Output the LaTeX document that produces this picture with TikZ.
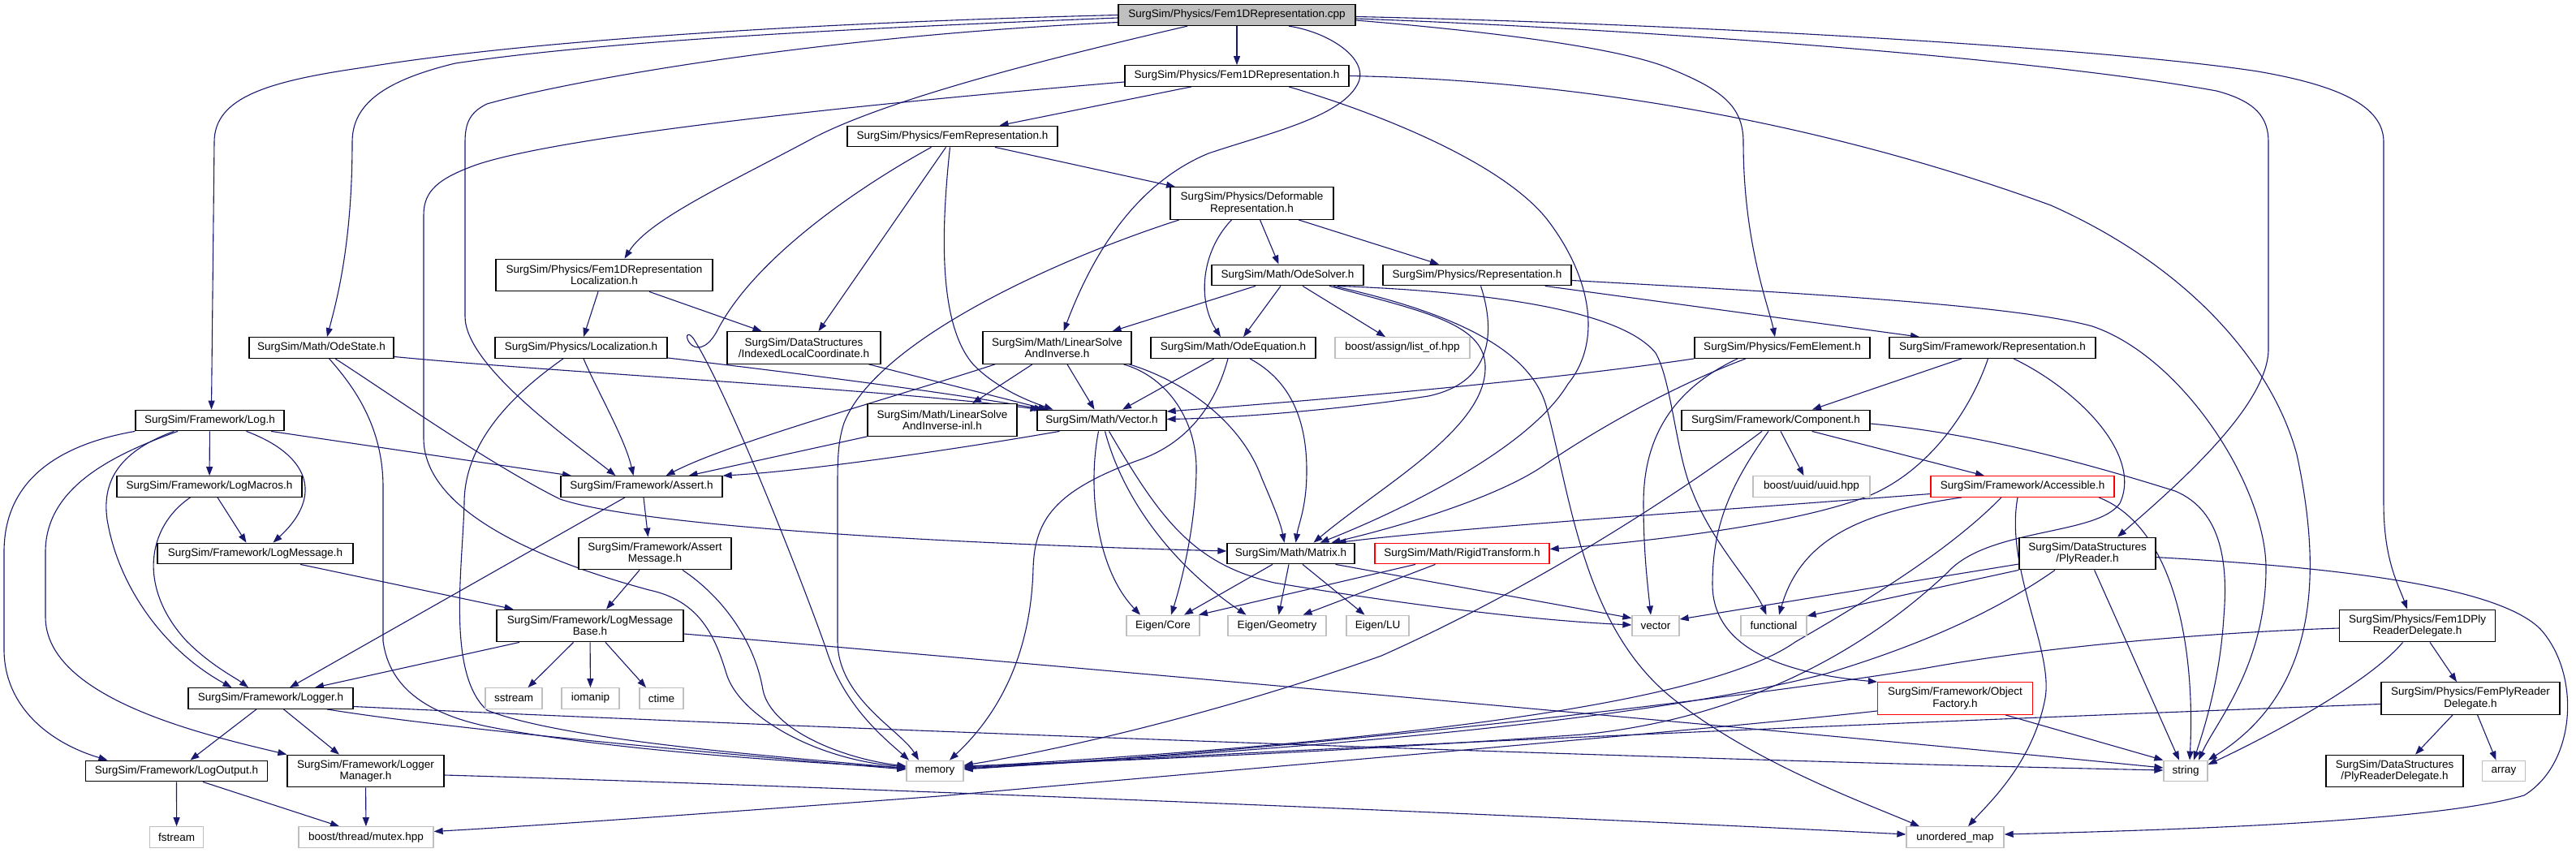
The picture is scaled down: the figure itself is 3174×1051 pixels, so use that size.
\documentclass[tikz,border=0pt]{standalone}
\usepackage{fontspec}
\setmainfont{Liberation Sans}
\usetikzlibrary{arrows.meta,calc}
\definecolor{mblue}{HTML}{191970}
\definecolor{grayext}{HTML}{BFBFBF}
\newcommand{\nfs}{\fontsize{13.5}{14.3}\selectfont}
\pgfdeclarelayer{bglayer}
\pgfdeclarelayer{edgelayer}
\pgfsetlayers{bglayer,edgelayer,main}
\tikzset{
  nd/.style={draw=black, line width=1.3pt, fill=white, inner sep=0pt, minimum height=25.5pt, align=center, font=\nfs, text=black},
  two/.style={minimum height=39.5pt},
  ext/.style={nd, draw=grayext},
  trunc/.style={nd, draw=red},
  edg/.style={draw=mblue, line width=1.1pt, -{Triangle[length=11pt,width=8pt]}},
}
\begin{document}
\begin{tikzpicture}[x=1pt,y=-1pt]
\begin{pgfonlayer}{bglayer}
\fill[white] (0,0) rectangle (3174,1051);
\end{pgfonlayer}
\useasboundingbox (0,0) rectangle (3174,1051);
% ---------- nodes ----------
\node[nd,fill=grayext,minimum width=292pt,minimum height=26pt] (root) at (1524,18.5) {SurgSim/Physics/Fem1DRepresentation.cpp};
\node[nd,minimum width=276pt] (f1dh) at (1524,93.5) {SurgSim/Physics/Fem1DRepresentation.h};
\node[nd,minimum width=259pt] (femrep) at (1173.5,168) {SurgSim/Physics/FemRepresentation.h};
\node[nd,two,minimum width=201pt] (deform) at (1542.5,250.5) {SurgSim/Physics/Deformable\\Representation.h};
\node[nd,two,minimum width=267pt] (f1dloc) at (744.5,339) {SurgSim/Physics/Fem1DRepresentation\\Localization.h};
\node[nd,minimum width=187pt] (odesolver) at (1586.5,339) {SurgSim/Math/OdeSolver.h};
\node[nd,minimum width=232pt] (physrep) at (1820,339) {SurgSim/Physics/Representation.h};
\node[nd,minimum width=178pt] (odestate) at (396,428.5) {SurgSim/Math/OdeState.h};
\node[nd,minimum width=212pt] (loc) at (716,428.5) {SurgSim/Physics/Localization.h};
\node[nd,two,minimum width=189pt] (ilc) at (990.5,428.5) {SurgSim/DataStructures\\/IndexedLocalCoordinate.h};
\node[nd,two,minimum width=183pt] (linsolve) at (1302.5,428.5) {SurgSim/Math/LinearSolve\\AndInverse.h};
\node[nd,minimum width=203pt] (odeeq) at (1519.5,428.5) {SurgSim/Math/OdeEquation.h};
\node[ext,minimum width=166pt] (listof) at (1728,428.5) {boost/assign/list\_of.hpp};
\node[nd,minimum width=216pt] (femelem) at (2196,428.5) {SurgSim/Physics/FemElement.h};
\node[nd,minimum width=254pt] (fwrep) at (2455,428.5) {SurgSim/Framework/Representation.h};
\node[nd,minimum width=183pt] (log) at (258.5,518) {SurgSim/Framework/Log.h};
\node[nd,two,minimum width=184pt] (lsinl) at (1161,517.5) {SurgSim/Math/LinearSolve\\AndInverse-inl.h};
\node[nd,minimum width=159pt] (vec) at (1357.5,518) {SurgSim/Math/Vector.h};
\node[nd,minimum width=232pt] (comp) at (2188,518) {SurgSim/Framework/Component.h};
\node[nd,minimum width=228pt] (logmacros) at (258,599.5) {SurgSim/Framework/LogMacros.h};
\node[nd,minimum width=199pt] (assert) at (790.5,599.5) {SurgSim/Framework/Assert.h};
\node[ext,minimum width=144pt] (uuid) at (2232,599.5) {boost/uuid/uuid.hpp};
\node[trunc,minimum width=226pt] (access) at (2492,599.5) {SurgSim/Framework/Accessible.h};
\node[nd,minimum width=241pt] (logmsg) at (314.5,682) {SurgSim/Framework/LogMessage.h};
\node[nd,two,minimum width=188pt] (assertmsg) at (807,682) {SurgSim/Framework/Assert\\Message.h};
\node[nd,minimum width=157pt] (matrix) at (1590.5,682) {SurgSim/Math/Matrix.h};
\node[trunc,minimum width=215pt] (rigid) at (1801.5,682) {SurgSim/Math/RigidTransform.h};
\node[nd,two,minimum width=168pt] (plyreader) at (2572,682) {SurgSim/DataStructures\\/PlyReader.h};
\node[nd,two,minimum width=230pt] (lmbase) at (727,771) {SurgSim/Framework/LogMessage\\Base.h};
\node[ext,minimum width=90pt] (ecore) at (1433,771) {Eigen/Core};
\node[ext,minimum width=121pt] (egeom) at (1573.5,771) {Eigen/Geometry};
\node[ext,minimum width=77pt] (elu) at (1697.5,771) {Eigen/LU};
\node[ext,minimum width=58pt] (vector) at (2040,771) {vector};
\node[ext,minimum width=81pt] (functional) at (2185.5,771) {functional};
\node[nd,two,minimum width=192pt] (f1dply) at (2978.6,771) {SurgSim/Physics/Fem1DPly\\ReaderDelegate.h};
\node[nd,minimum width=203pt] (logger) at (333.5,860.5) {SurgSim/Framework/Logger.h};
\node[ext,minimum width=70pt] (sstream) at (633,860.5) {sstream};
\node[ext,minimum width=71pt] (iomanip) at (727.5,860.5) {iomanip};
\node[ext,minimum width=54pt] (ctime) at (815,860.5) {ctime};
\node[trunc,two,minimum width=191pt] (objfact) at (2409,860.5) {SurgSim/Framework/Object\\Factory.h};
\node[nd,two,minimum width=220pt] (femply) at (3044,860.5) {SurgSim/Physics/FemPlyReader\\Delegate.h};
\node[nd,minimum width=224pt] (logout) at (217.5,950) {SurgSim/Framework/LogOutput.h};
\node[nd,two,minimum width=193pt] (logmgr) at (450.5,950) {SurgSim/Framework/Logger\\Manager.h};
\node[ext,minimum width=70pt] (memory) at (1152,950) {memory};
\node[ext,minimum width=54pt] (string) at (2693,950) {string};
\node[nd,two,minimum width=169pt] (plyrd) at (2950.5,950) {SurgSim/DataStructures\\/PlyReaderDelegate.h};
\node[ext,minimum width=53pt] (array) at (3085,950) {array};
\node[ext,minimum width=66pt] (fstream) at (217.6,1031.5) {fstream};
\node[ext,minimum width=166pt] (mutex) at (451,1031.5) {boost/thread/mutex.hpp};
\node[ext,minimum width=120pt] (umap) at (2409,1031.5) {unordered\_map};
% ---------- edges ----------
\begin{pgfonlayer}{edgelayer}
% root
\draw[edg] (root) -- (f1dh);
\draw[edg] (root.west) .. controls (1000,28) and (650,50) .. (449,83) .. controls (330,100) and (264,120) .. (264,175) -- ($(log.north)+(2,0)$);
\draw[edg] ($(root.west)+(0,3.5)$) .. controls (1050,35) and (750,50) .. (561,78) .. controls (470,100) and (434,130) .. (434,175) .. controls (434,300) and (415,370) .. ($(odestate.north)+(7,0)$);
\draw[edg] ($(root.south)+(-61,0)$) .. controls (1300,70) and (1100,120) .. (1004,169) .. controls (900,225) and (800,270) .. ($(f1dloc.north)+(25,0)$);
\draw[edg] ($(root.west)+(0,9)$) .. controls (1000,45) and (700,100) .. (600,128) .. controls (580,138) and (573,150) .. (573,175) -- (573,390) .. controls (573,450) and (700,540) .. ($(assert.north)+(-32,0)$);
\draw[edg] ($(root.south)+(64,0)$) .. controls (1640,40) and (1690,75) .. (1672,105) .. controls (1650,145) and (1560,165) .. (1489,189) .. controls (1390,230) and (1340,330) .. ($(linsolve.north)+(8,0)$);
\draw[edg] ($(root.east)+(0,6.5)$) .. controls (1850,40) and (2000,60) .. (2059,85) .. controls (2120,110) and (2148,130) .. (2148,175) .. controls (2148,300) and (2180,380) .. ($(femelem.north)+(-9,0)$);
\draw[edg] ($(root.east)+(0,4.5)$) .. controls (2000,35) and (2500,70) .. (2731,112) .. controls (2780,125) and (2795,145) .. (2795,175) -- (2795,430) .. controls (2795,500) and (2680,600) .. ($(plyreader.north)+(37,0)$);
\draw[edg] ($(root.east)+(0,2)$) .. controls (2100,30) and (2600,60) .. (2782,88) .. controls (2880,105) and (2937,130) .. (2937,175) -- (2937,620) .. controls (2937,690) and (2955,720) .. ($(f1dply.north)+(-12.6,0)$);
% Fem1DRepresentation.h
\draw[edg] ($(f1dh.south)+(-56,0)$) -- ($(femrep.north)+(58,0)$);
\draw[edg] ($(f1dh.west)+(0,7.5)$) .. controls (1100,125) and (700,165) .. (587,203) .. controls (540,220) and (522,235) .. (522,265) -- (522,540) .. controls (522,640) and (700,700) .. (800,727) .. controls (860,740) and (880,780) .. (895,830) .. controls (910,880) and (1000,935) .. ($(memory.west)+(0,-5)$);
\draw[edg] ($(f1dh.south)+(64,0)$) .. controls (1700,140) and (1850,200) .. (1906,270) .. controls (1960,340) and (1975,420) .. (1932,473) .. controls (1880,560) and (1700,640) .. ($(matrix.north)+(36,0)$);
\draw[edg] (f1dh.east) .. controls (2000,100) and (2300,170) .. (2527,253) .. controls (2700,330) and (2800,450) .. (2830,560) .. controls (2860,700) and (2860,850) .. (string.north east);
% FemRepresentation.h
\draw[edg] ($(femrep.south)+(52.5,0)$) -- ($(deform.north)+(-94.5,0)$);
\draw[edg] ($(femrep.south)+(-8,0)$) -- ($(ilc.north)+(18,0)$);
\draw[edg] ($(femrep.south)+(-3,0)$) .. controls (1160,280) and (1155,400) .. (1200,450) .. controls (1230,480) and (1270,495) .. ($(vec.north)+(-60,0)$);
\draw[edg] ($(femrep.south)+(-26,0)$) .. controls (1050,235) and (930,320) .. (885,405) .. controls (875,425) and (862,433) .. (852,425) .. controls (843,417) and (846,405) .. (855,418) .. controls (900,490) and (990,720) .. (1018,800) .. controls (1040,870) and (1090,910) .. ($(memory.north)+(-32,0)$);
% Deformable
\draw[edg] ($(deform.south)+(10,0)$) -- ($(odesolver.north)+(-11,0)$);
\draw[edg] ($(deform.south)+(-25,0)$) .. controls (1480,310) and (1475,370) .. ($(odeeq.north)+(-15.5,0)$);
\draw[edg] ($(deform.south)+(57.5,0)$) -- ($(physrep.north)+(-47,0)$);
\draw[edg] ($(deform.south)+(-89.5,0)$) .. controls (1300,320) and (1080,420) .. (1040,521) .. controls (1032,545) and (1032,570) .. (1032,600) -- (1032,790) .. controls (1032,860) and (1110,900) .. ($(memory.north)+(-20,0)$);
% OdeSolver
\draw[edg] ($(odesolver.south)+(-39.5,0)$) -- ($(linsolve.north)+(68,0)$);
\draw[edg] ($(odesolver.south)+(-8.5,0)$) -- ($(odeeq.north)+(12.5,0)$);
\draw[edg] ($(odesolver.south)+(18.5,0)$) -- ($(listof.north)+(-21,0)$);
\draw[edg] ($(odesolver.south)+(51.5,0)$) .. controls (1760,385) and (1832,400) .. (1830,455) .. controls (1828,530) and (1700,600) .. ($(matrix.north)+(28,0)$);
\draw[edg] ($(odesolver.south)+(56.5,0)$) .. controls (1790,385) and (1885,430) .. (1905,500) .. controls (1935,610) and (1950,770) .. (2059,859) .. controls (2160,940) and (2300,990) .. ($(umap.north)+(-44,0)$);
\draw[edg] ($(odesolver.south)+(61.5,0)$) .. controls (1850,360) and (2000,385) .. (2040,435) .. controls (2060,470) and (2065,560) .. (2085,605) .. controls (2110,670) and (2160,720) .. ($(functional.north)+(-9,0)$);
% Physics/Representation
\draw[edg] ($(physrep.south)+(83.6,0)$) -- ($(fwrep.north)+(-90,0)$);
\draw[edg] ($(physrep.south)+(4.5,0)$) .. controls (1840,400) and (1845,470) .. (1760,488) .. controls (1650,505) and (1520,515) .. ($(vec.east)+(0,-1.5)$);
\draw[edg] ($(physrep.east)+(0,6.5)$) .. controls (2200,360) and (2480,375) .. (2578,402) .. controls (2690,440) and (2792,600) .. (2792,700) .. controls (2792,820) and (2730,890) .. ($(string.north)+(16,0)$);
% LinearSolve
\draw[edg] ($(linsolve.south)+(-76.5,0)$) .. controls (1100,490) and (900,545) .. ($(assert.north)+(30,0)$);
\draw[edg] ($(linsolve.south)+(-30.5,0)$) -- ($(lsinl.north)+(37,0)$);
\draw[edg] ($(linsolve.south)+(12.5,0)$) -- ($(vec.north)+(-9,0)$);
\draw[edg] ($(linsolve.south)+(82,0)$) .. controls (1440,465) and (1475,520) .. (1474,580) .. controls (1473,650) and (1455,720) .. ($(ecore.north)+(10,0)$);
\draw[edg] ($(linsolve.south)+(89,0)$) .. controls (1460,470) and (1530,520) .. (1555,590) .. controls (1570,625) and (1578,645) .. ($(matrix.north)+(-8,0)$);
% OdeEquation
\draw[edg] ($(odeeq.south)+(-23.5,0)$) -- ($(vec.north)+(25.5,0)$);
\draw[edg] ($(odeeq.south)+(-6.5,0)$) .. controls (1500,490) and (1470,545) .. (1400,568) .. controls (1300,605) and (1275,640) .. (1273,700) .. controls (1270,820) and (1220,890) .. ($(memory.north)+(18,0)$);
\draw[edg] ($(odeeq.south)+(20.5,0)$) .. controls (1592,470) and (1610,520) .. (1610,580) .. controls (1610,625) and (1600,645) .. ($(matrix.north)+(6,0)$);
% OdeState
\draw[edg] ($(odestate.south)+(9.6,0)$) .. controls (430,470) and (472,520) .. (472,600) -- (472,790) .. controls (480,850) and (530,880) .. (600,895) .. controls (750,925) and (1000,940) .. ($(memory.west)+(0,-4)$);
\draw[edg] ($(odestate.south)+(17,0)$) .. controls (480,485) and (600,570) .. (690,615) .. controls (780,645) and (1100,668) .. ($(matrix.west)+(0,-3)$);
\draw[edg] ($(odestate.east)+(0,11)$) .. controls (700,460) and (1100,480) .. ($(vec.north)+(-77,0)$);
% Localization
\draw[edg] ($(loc.south)+(3,0)$) .. controls (735,480) and (770,540) .. ($(assert.north)+(-10,0)$);
\draw[edg] ($(loc.south)+(-22,0)$) .. controls (640,480) and (572,540) .. (572,620) .. controls (570,700) and (550,830) .. (600,875) .. controls (700,915) and (1000,935) .. ($(memory.west)+(0,-3)$);
\draw[edg] ($(loc.east)+(0,12.5)$) .. controls (900,450) and (1150,480) .. ($(vec.north)+(-72,0)$);
% Fem1DRepresentationLocalization
\draw[edg] ($(f1dloc.south)+(-7.5,0)$) -- ($(loc.north)+(3,0)$);
\draw[edg] ($(f1dloc.south)+(55.5,0)$) -- ($(ilc.north)+(-52,0)$);
% IndexedLocalCoordinate, LinearSolve-inl
\draw[edg] ($(ilc.south)+(80,0)$) -- ($(vec.north)+(-67,0)$);
\draw[edg] (lsinl.south west) -- ($(assert.north)+(58,0)$);
% Vector
\draw[edg] ($(vec.south)+(-52,0)$) .. controls (1200,550) and (1000,580) .. (assert.north east);
\draw[edg] ($(vec.south)+(-4,0)$) .. controls (1340,600) and (1350,700) .. ($(ecore.north)+(-28,0)$);
\draw[edg] ($(vec.south)+(4,0)$) .. controls (1385,620) and (1450,700) .. ($(egeom.north)+(-38,0)$);
\draw[edg] ($(vec.south)+(9,0)$) .. controls (1430,640) and (1470,695) .. (1570,718) .. controls (1750,748) and (1900,765) .. ($(vector.west)+(0,-1)$);
% Matrix
\draw[edg] ($(matrix.south)+(-22.5,0)$) -- ($(ecore.north)+(26,0)$);
\draw[edg] ($(matrix.south)+(-2.5,0)$) -- ($(egeom.north)+(2,0)$);
\draw[edg] ($(matrix.south)+(14.5,0)$) -- ($(elu.north)+(-16,0)$);
\draw[edg] ($(matrix.south)+(55,0)$) -- ($(vector.north west)+(0,4)$);
% RigidTransform
\draw[edg] ($(rigid.south)+(-57.5,0)$) -- ($(ecore.north)+(44,0)$);
\draw[edg] ($(rigid.south)+(-33,0)$) -- ($(egeom.north)+(32,0)$);
% Framework/Representation
\draw[edg] ($(fwrep.south)+(-38,0)$) -- ($(comp.north)+(45,0)$);
\draw[edg] ($(fwrep.south)+(-5.5,0)$) .. controls (2430,500) and (2380,580) .. (2300,612) .. controls (2200,650) and (2000,670) .. ($(rigid.east)+(0,-5.5)$);
\draw[edg] ($(fwrep.south)+(26,0)$) .. controls (2560,480) and (2640,560) .. (2612,620) .. controls (2585,660) and (2450,650) .. (2400,705) .. controls (2300,800) and (2150,885) .. (1950,905) .. controls (1600,930) and (1300,940) .. ($(memory.east)+(0,-6)$);
% Component
\draw[edg] ($(comp.south)+(6,0)$) -- ($(uuid.north)+(-9.5,0)$);
\draw[edg] ($(comp.south)+(44.6,0)$) -- ($(access.north)+(-47,0)$);
\draw[edg] ($(comp.east)+(0,4)$) .. controls (2450,535) and (2600,580) .. (2680,605) .. controls (2740,630) and (2745,700) .. (2740,760) .. controls (2735,840) and (2715,900) .. ($(string.north)+(10,0)$);
\draw[edg] ($(comp.south)+(-17,0)$) .. controls (2080,600) and (1900,720) .. (1702,808) .. controls (1500,880) and (1300,925) .. ($(memory.east)+(0,-7)$);
\draw[edg] ($(comp.south)+(-9,0)$) .. controls (2130,600) and (2110,650) .. (2110,720) .. controls (2110,800) and (2200,830) .. (objfact.north west);
% Accessible
\draw[edg] ($(access.west)+(0,9)$) .. controls (2100,630) and (1800,650) .. ($(matrix.north)+(57,0)$);
\draw[edg] ($(access.south)+(-75,0)$) .. controls (2300,630) and (2220,660) .. ($(functional.north)+(6.5,0)$);
\draw[edg] ($(access.south)+(-26,0)$) .. controls (2400,680) and (2300,740) .. (2212,791) .. controls (2100,870) and (1700,915) .. ($(memory.east)+(0,-5)$);
\draw[edg] ($(access.south)+(94,0)$) .. controls (2680,650) and (2705,800) .. ($(string.north)+(5,0)$);
\draw[edg] ($(access.south)+(-6,0)$) .. controls (2470,700) and (2530,800) .. (2520,860) .. controls (2505,940) and (2450,990) .. ($(umap.north)+(16,0)$);
% PlyReader
\draw[edg] ($(plyreader.west)+(0,13)$) -- ($(vector.east)+(0,-8)$);
\draw[edg] (plyreader.south west) -- ($(functional.east)+(0,-12)$);
\draw[edg] ($(plyreader.south)+(-40,0)$) .. controls (2450,760) and (2350,800) .. (2250,830) .. controls (2000,895) and (1500,930) .. ($(memory.east)+(0,-4)$);
\draw[edg] ($(plyreader.south)+(8.6,0)$) -- ($(string.north)+(-8,0)$);
\draw[edg] ($(plyreader.east)+(0,4.6)$) .. controls (2900,700) and (3080,725) .. (3130,775) .. controls (3180,830) and (3175,940) .. (3110,980) .. controls (3000,1012) and (2700,1022) .. ($(umap.east)+(0,-3.5)$);
% Fem1DPlyReaderDelegate
\draw[edg] ($(f1dply.west)+(0,3)$) .. controls (2700,780) and (2500,800) .. (2374,823) .. controls (2150,860) and (1600,925) .. ($(memory.east)+(0,-3)$);
\draw[edg] ($(f1dply.south)+(-18,0)$) .. controls (2920,840) and (2800,905) .. ($(string.east)+(0,-8)$);
\draw[edg] ($(f1dply.south)+(15.4,0)$) -- ($(femply.north)+(-17,0)$);
% FemPlyReaderDelegate
\draw[edg] ($(femply.west)+(0,7)$) .. controls (2600,880) and (1600,920) .. ($(memory.east)+(0,-2)$);
\draw[edg] ($(femply.south)+(-22,0)$) -- ($(plyrd.north)+(25.5,0)$);
\draw[edg] ($(femply.south)+(8.6,0)$) -- ($(array.north)+(-9.5,0)$);
% ObjectFactory
\draw[edg] ($(objfact.south)+(62,0)$) -- (string.north west);
\draw[edg] ($(objfact.west)+(0,15.5)$) .. controls (2100,900) and (1500,950) .. (1157,981) .. controls (900,1000) and (700,1015) .. ($(mutex.east)+(0,-7)$);
% Log
\draw[edg] (log) -- (logmacros);
\draw[edg] ($(log.south)+(45,0)$) .. controls (380,560) and (400,610) .. ($(logmsg.north)+(22,0)$);
\draw[edg] ($(log.south)+(75.5,0)$) -- ($(assert.north)+(-86.5,0)$);
\draw[edg] ($(log.south)+(-44,0)$) .. controls (150,555) and (125,590) .. (132,640) .. controls (145,720) and (200,800) .. ($(logger.north)+(-48,0)$);
\draw[edg] ($(log.south)+(-39.5,0)$) .. controls (140,560) and (56,600) .. (56,680) -- (56,760) .. controls (56,860) and (250,905) .. (logmgr.north west);
\draw[edg] (log.south west) .. controls (60,550) and (5,600) .. (5,680) -- (5,800) .. controls (5,870) and (60,915) .. ($(logout.north)+(-85,0)$);
% LogMacros, LogMessage
\draw[edg] ($(logmacros.south)+(10,0)$) -- ($(logmsg.north)+(-11,0)$);
\draw[edg] ($(logmacros.south)+(-23.5,0)$) .. controls (180,650) and (170,725) .. (230,790) .. controls (260,820) and (290,835) .. ($(logger.north)+(-27.5,0)$);
\draw[edg] ($(logmsg.south)+(55.5,0)$) -- ($(lmbase.north)+(-94.4,0)$);
% Assert, AssertMessage
\draw[edg] ($(assert.south)+(-20.5,0)$) -- ($(logger.north)+(23.5,0)$);
\draw[edg] ($(assert.south)+(2.5,0)$) -- ($(assertmsg.north)+(-8.5,0)$);
\draw[edg] ($(assertmsg.south)+(-19,0)$) -- ($(lmbase.north)+(20,0)$);
\draw[edg] ($(assertmsg.south)+(34,0)$) .. controls (890,735) and (930,790) .. (940,850) .. controls (950,900) and (1040,935) .. ($(memory.west)+(0,-6)$);
% LogMessageBase
\draw[edg] ($(lmbase.south)+(-87,0)$) -- ($(logger.north)+(54.5,0)$);
\draw[edg] ($(lmbase.south)+(-20.4,0)$) -- ($(sstream.north)+(17.5,0)$);
\draw[edg] (lmbase) -- (iomanip);
\draw[edg] ($(lmbase.south)+(19,0)$) -- ($(ctime.north)+(-19,0)$);
\draw[edg] ($(lmbase.east)+(0,10)$) .. controls (1300,820) and (2200,900) .. ($(string.west)+(0,-4)$);
% Logger
\draw[edg] ($(logger.south)+(-17.5,0)$) -- ($(logout.north)+(17,0)$);
\draw[edg] ($(logger.south)+(16,0)$) -- ($(logmgr.north)+(-32.5,0)$);
\draw[edg] ($(logger.south)+(69.5,0)$) .. controls (550,898) and (900,930) .. ($(memory.west)+(0,-2)$);
\draw[edg] ($(logger.east)+(0,10)$) .. controls (900,893) and (2000,935) .. ($(string.west)+(0,-1)$);
% LogOutput, LoggerManager
\draw[edg] (logout) -- (fstream);
\draw[edg] ($(logout.south)+(32.5,0)$) -- ($(mutex.north)+(-33,0)$);
\draw[edg] (logmgr) -- (mutex);
\draw[edg] ($(logmgr.east)+(0,5)$) .. controls (900,965) and (1800,1000) .. ($(umap.west)+(0,-3.5)$);
% FemElement
\draw[edg] (femelem.south west) .. controls (1900,470) and (1600,495) .. ($(vec.east)+(0,-11)$);
\draw[edg] ($(femelem.south)+(-45,0)$) .. controls (2050,480) and (1950,540) .. (1900,575) .. controls (1840,615) and (1720,650) .. ($(matrix.north)+(50,0)$);
\draw[edg] ($(femelem.south)+(-55,0)$) .. controls (2060,480) and (2025,540) .. (2025,620) .. controls (2025,680) and (2030,720) .. ($(vector.north)+(-6,0)$);
\end{pgfonlayer}
\end{tikzpicture}
\end{document}
